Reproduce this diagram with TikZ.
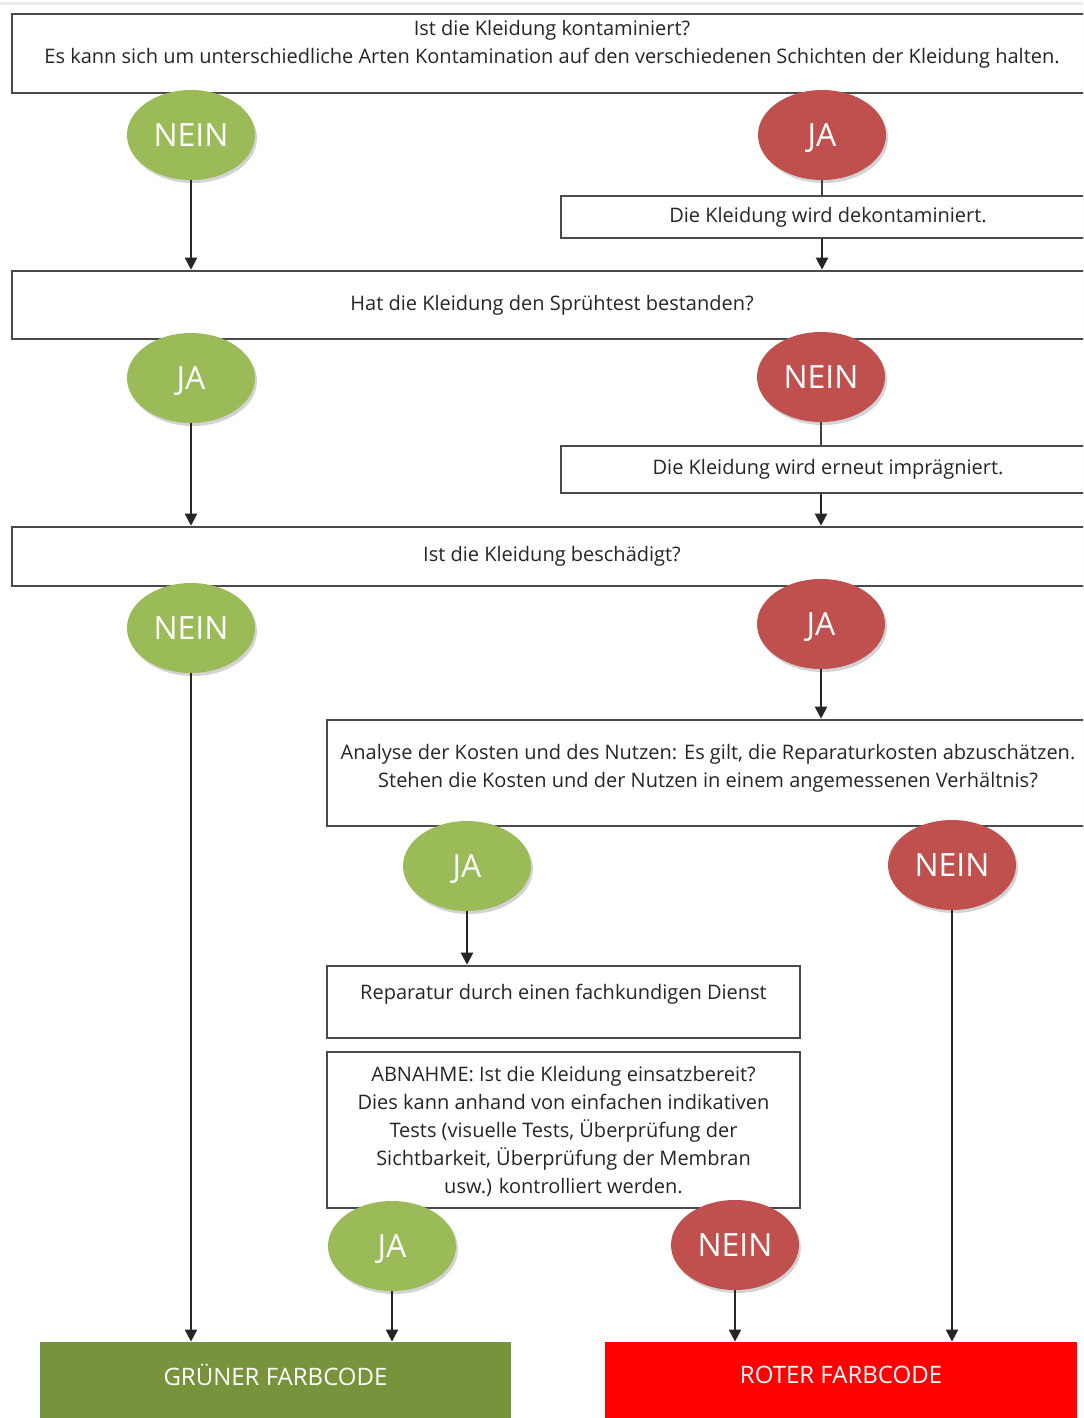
\documentclass[tikz,border=0pt]{standalone}
\usepackage{fontspec}
\setmainfont{Open Sans}
\usepackage{xcolor}
\usetikzlibrary{arrows.meta,positioning,shapes.geometric,shadows}

\definecolor{okgreen}{HTML}{9BBB59}
\definecolor{badred}{HTML}{C0504D}
\definecolor{codegreen}{HTML}{77933C}
\definecolor{codered}{HTML}{FF0000}
\definecolor{frame}{HTML}{4A4A4A}

\begin{document}
\begin{tikzpicture}[
    x=0.5pt, y=-0.5pt,
    box/.style={
        rectangle, draw=frame, fill=white, line width=1.3pt,
        align=center, inner sep=0pt, text=black!85,
        font=\fontsize{10}{14}\selectfont,
        drop shadow={shadow xshift=0.5pt, shadow yshift=-0.5pt, opacity=0.25}
    },
    yes/.style={
        ellipse, fill=okgreen, text=white, inner sep=0pt,
        minimum width=64pt, minimum height=45pt,
        text height=11.4pt, text depth=0pt,
        font=\fontsize{16}{18}\selectfont,
        drop shadow={shadow xshift=1pt, shadow yshift=-1.5pt, opacity=0.35}
    },
    no/.style={
        yes, fill=badred
    },
    code/.style={
        rectangle, inner sep=0pt, text=white,
        minimum width=235.5pt, minimum height=39pt,
        text depth=6pt,
        font=\fontsize{12}{14}\selectfont
    },
    arrow/.style={
        -{Triangle[width=6pt,length=6pt]}, line width=1.1pt, color=black!85
    },
    link/.style={
        line width=1.1pt, color=black!75
    }
]
\clip (0,0) rectangle (1083,1418);

% faint top line
\draw[gray!15, line width=1.5pt] (0,4) -- (1083,4);

% Question boxes
\node[box, minimum width=540pt, minimum height=39.5pt, text depth=12pt] (q1) at (552,53.5)
    {Ist die Kleidung kontaminiert?\\Es kann sich um unterschiedliche Arten Kontamination auf den verschiedenen Schichten der Kleidung halten.};
\node[box, minimum width=267pt, minimum height=21pt] (dekon) at (828,217) {Die Kleidung wird dekontaminiert.};
\node[box, minimum width=540pt, minimum height=34pt] (q2) at (552,305) {Hat die Kleidung den Sprühtest bestanden?};
\node[box, minimum width=267pt, minimum height=23.5pt] (impr) at (828,469.5) {Die Kleidung wird erneut imprägniert.};
\node[box, minimum width=540pt, minimum height=29.5pt] (q3) at (552,556.5) {Ist die Kleidung beschädigt?};
\node[box, minimum width=381pt, minimum height=53pt, text depth=7pt] (q4) at (708,773)
    {Analyse der Kosten und des Nutzen: Es gilt, die Reparaturkosten abzuschätzen.\\Stehen die Kosten und der Nutzen in einem angemessenen Verhältnis?};
\node[box, minimum width=236.5pt, minimum height=36pt, text depth=10pt] (rep) at (563.5,1002) {Reparatur durch einen fachkundigen Dienst};
\node[box, minimum width=236.5pt, minimum height=78pt, text depth=0pt] (abn) at (563.5,1130)
    {ABNAHME: Ist die Kleidung einsatzbereit?\\Dies kann anhand von einfachen indikativen\\Tests (visuelle Tests, Überprüfung der\\Sichtbarkeit, Überprüfung der Membran\\usw.) kontrolliert werden.};

% Answers
\node[yes] (n1) at (191,135) {NEIN};
\node[no]  (j1) at (822,135) {JA};
\node[yes] (j2) at (191,378) {JA};
\node[no]  (n2) at (821,377) {NEIN};
\node[yes] (n3) at (191,628) {NEIN};
\node[no]  (j3) at (821,624) {JA};
\node[yes] (j4) at (467,866) {JA};
\node[no]  (n4) at (952,865) {NEIN};
\node[yes] (j5) at (392,1246) {JA};
\node[no]  (n5) at (735,1245) {NEIN};

% Colour codes
\node[code, fill=codegreen] (gruen) at (275.5,1381) {GRÜNER FARBCODE};
\node[code, fill=codered, minimum width=236pt] (rot) at (841,1381) {ROTER FARBCODE};

% Arrows
\draw[arrow] (n1.south) -- (n1.south |- q2.north);
\draw[link]  (j1.south) -- (j1.south |- dekon.north);
\draw[arrow] (dekon.south -| j1.south) -- (q2.north -| j1.south);
\draw[arrow] (j2.south) -- (j2.south |- q3.north);
\draw[link]  (n2.south) -- (n2.south |- impr.north);
\draw[arrow] (impr.south -| n2.south) -- (q3.north -| n2.south);
\draw[arrow] (n3.south) -- (n3.south |- gruen.north);
\draw[arrow] (j3.south) -- (j3.south |- q4.north);
\draw[arrow] (j4.south) -- (j4.south |- rep.north);
\draw[arrow] (n4.south) -- (n4.south |- rot.north);
\draw[arrow] (j5.south) -- (j5.south |- gruen.north);
\draw[arrow] (n5.south) -- (n5.south |- rot.north);

\end{tikzpicture}
\end{document}
